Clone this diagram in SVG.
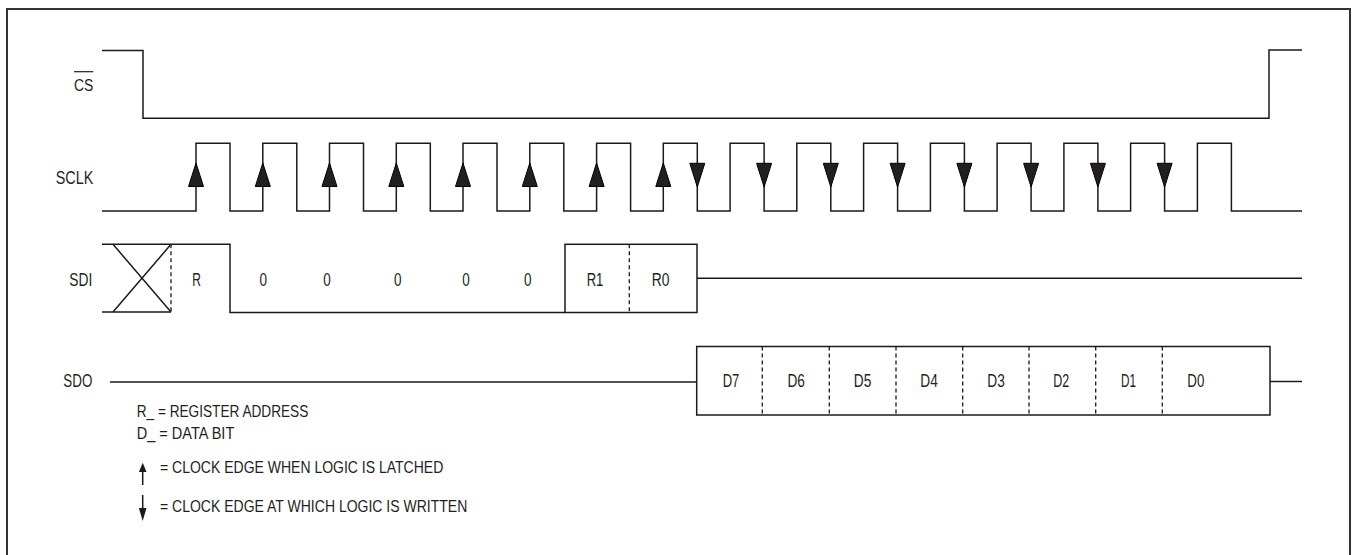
<svg xmlns="http://www.w3.org/2000/svg" width="1354" height="555" viewBox="0 0 1354 555">
<defs>
<style>
.ln{fill:none;stroke:#1a1a1a;stroke-width:1.5}
.ds{fill:none;stroke:#1a1a1a;stroke-width:1.3;stroke-dasharray:4,3}
.ah{fill:#231f20;stroke:#000;stroke-width:1}
.lb{font-family:"Liberation Sans",Arial,sans-serif;font-size:18px;fill:#231f20}
.lg{font-family:"Liberation Sans",Arial,sans-serif;font-size:16.5px;fill:#231f20}
.c{text-anchor:middle}
</style>
<polygon id="up" class="ah" points="0,-23.5 -7.5,0 7.5,0"/>
<polygon id="dn" class="ah" points="-7.5,0 7.5,0 0,23.7"/>
</defs>
<rect width="1354" height="555" fill="#fff"/>
<path d="M7,555 V9 H1350 V555" fill="none" stroke="#333" stroke-width="2"/>

<g id="cs">
<text class="lb" x="74" y="90.7" textLength="19.3" lengthAdjust="spacingAndGlyphs" style="font-size:16px">CS</text>
<line x1="74" y1="71.7" x2="93.3" y2="71.7" stroke="#231f20" stroke-width="1.2"/>
<path class="ln" d="M102,50.5 H143 V118.3 H1269 V50 H1302"/>
</g>

<g id="sclk">
<text class="lb" x="55.7" y="184.3" textLength="37.6" lengthAdjust="spacingAndGlyphs">SCLK</text>
<path class="ln" d="M102,211 H196 V143.3 H230 V211 H262.8 V143.3 H296.8 V211 H329.5 V143.3 H363.5 V211 H396.3 V143.3 H430.3 V211 H463 V143.3 H497 V211 H529.8 V143.3 H563.8 V211 H596.6 V143.3 H630.6 V211 H663.3 V143.3 H697.3 V211 H730.1 V143.3 H764.1 V211 H796.8 V143.3 H830.8 V211 H863.6 V143.3 H897.6 V211 H930.4 V143.3 H964.4 V211 H997.1 V143.3 H1031.1 V211 H1063.9 V143.3 H1097.9 V211 H1130.6 V143.3 H1164.6 V211 H1197.4 V143.3 H1231.4 V211 H1302"/>
<use href="#up" x="196" y="186.5"/>
<use href="#up" x="262.8" y="186.5"/>
<use href="#up" x="329.5" y="186.5"/>
<use href="#up" x="396.3" y="186.5"/>
<use href="#up" x="463" y="186.5"/>
<use href="#up" x="529.8" y="186.5"/>
<use href="#up" x="596.6" y="186.5"/>
<use href="#up" x="663.3" y="186.5"/>
<use href="#dn" x="697.3" y="163.3"/>
<use href="#dn" x="764.1" y="163.3"/>
<use href="#dn" x="830.8" y="163.3"/>
<use href="#dn" x="897.6" y="163.3"/>
<use href="#dn" x="964.4" y="163.3"/>
<use href="#dn" x="1031.1" y="163.3"/>
<use href="#dn" x="1097.9" y="163.3"/>
<use href="#dn" x="1164.6" y="163.3"/>
</g>

<g id="sdi">
<text class="lb" x="69.3" y="285.5" textLength="23" lengthAdjust="spacingAndGlyphs">SDI</text>
<path class="ln" d="M102,244.3 H230 V312.5 H565"/>
<path class="ln" d="M102,312 H171"/>
<path class="ln" d="M113,244.3 L171,312 M113,312 L171,244.3"/>
<line class="ds" x1="171" y1="244.3" x2="171" y2="312"/>
<rect class="ln" x="565" y="244.3" width="132" height="68.2"/>
<line class="ds" x1="629.3" y1="244.3" x2="629.3" y2="312.5"/>
<path class="ln" d="M697,278.3 H1302"/>
<text class="lb c" x="196.7" y="285.5" textLength="8.7" lengthAdjust="spacingAndGlyphs">R</text>
<text class="lb c" x="263.3" y="285.5" textLength="7.5" lengthAdjust="spacingAndGlyphs">0</text>
<text class="lb c" x="327" y="285.5" textLength="7.5" lengthAdjust="spacingAndGlyphs">0</text>
<text class="lb c" x="397.7" y="285.5" textLength="7.5" lengthAdjust="spacingAndGlyphs">0</text>
<text class="lb c" x="466" y="285.5" textLength="7.5" lengthAdjust="spacingAndGlyphs">0</text>
<text class="lb c" x="527.8" y="285.5" textLength="7.5" lengthAdjust="spacingAndGlyphs">0</text>
<text class="lb c" x="595" y="285.5" textLength="16.7" lengthAdjust="spacingAndGlyphs">R1</text>
<text class="lb c" x="660.5" y="285.5" textLength="17.7" lengthAdjust="spacingAndGlyphs">R0</text>
</g>

<g id="sdo">
<text class="lb" x="63.3" y="387.3" textLength="29" lengthAdjust="spacingAndGlyphs">SDO</text>
<path class="ln" d="M110,382 H696.7"/>
<rect class="ln" x="696.7" y="346.5" width="573.3" height="68.5"/>
<path class="ln" d="M1270,381.5 H1302"/>
<g class="dsg">
<line class="ds" x1="762.3" y1="346.5" x2="762.3" y2="415"/>
<line class="ds" x1="829.3" y1="346.5" x2="829.3" y2="415"/>
<line class="ds" x1="896" y1="346.5" x2="896" y2="415"/>
<line class="ds" x1="962.7" y1="346.5" x2="962.7" y2="415"/>
<line class="ds" x1="1029" y1="346.5" x2="1029" y2="415"/>
<line class="ds" x1="1095.7" y1="346.5" x2="1095.7" y2="415"/>
<line class="ds" x1="1162.3" y1="346.5" x2="1162.3" y2="415"/>
</g>
<text class="lb c" x="731" y="387" textLength="16.7" lengthAdjust="spacingAndGlyphs">D7</text>
<text class="lb c" x="796.2" y="387" textLength="17.5" lengthAdjust="spacingAndGlyphs">D6</text>
<text class="lb c" x="862.5" y="387" textLength="17.5" lengthAdjust="spacingAndGlyphs">D5</text>
<text class="lb c" x="929" y="387" textLength="17.5" lengthAdjust="spacingAndGlyphs">D4</text>
<text class="lb c" x="996" y="387" textLength="17.5" lengthAdjust="spacingAndGlyphs">D3</text>
<text class="lb c" x="1061.2" y="387" textLength="16" lengthAdjust="spacingAndGlyphs">D2</text>
<text class="lb c" x="1128.5" y="387" textLength="15" lengthAdjust="spacingAndGlyphs">D1</text>
<text class="lb c" x="1195.8" y="387" textLength="17" lengthAdjust="spacingAndGlyphs">D0</text>
</g>

<g id="legend">
<text class="lg" x="136.7" y="417.3" textLength="171.6" lengthAdjust="spacingAndGlyphs">R_ = REGISTER ADDRESS</text>
<text class="lg" x="136.7" y="439.3" textLength="97.6" lengthAdjust="spacingAndGlyphs">D_ = DATA BIT</text>
<line x1="142.7" y1="470" x2="142.7" y2="485" stroke="#1a1a1a" stroke-width="1.5"/>
<polygon points="142.7,462.7 138.9,472 146.5,472" fill="#1a1a1a"/>
<text class="lg" x="160" y="473.3" textLength="283.3" lengthAdjust="spacingAndGlyphs">= CLOCK EDGE WHEN LOGIC IS LATCHED</text>
<line x1="142.7" y1="495" x2="142.7" y2="510" stroke="#1a1a1a" stroke-width="1.5"/>
<polygon points="138.9,508 146.5,508 142.7,521" fill="#1a1a1a"/>
<text class="lg" x="160" y="511.7" textLength="307.3" lengthAdjust="spacingAndGlyphs">= CLOCK EDGE AT WHICH LOGIC IS WRITTEN</text>
</g>
</svg>
